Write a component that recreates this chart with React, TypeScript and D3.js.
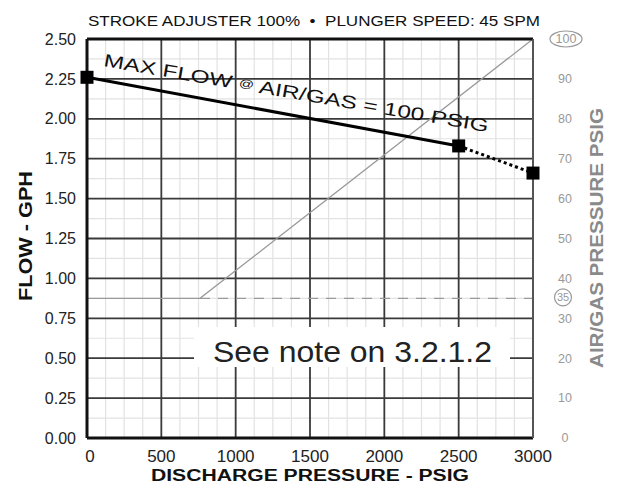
import * as d3 from "d3";

// discharge pressure (psig) vs max flow (gph)
const flowPsi = [0, 2500, 3000];
const flowGph = [2.26, 1.83, 1.66];

// air/gas pressure needed (psig) on right axis
const airPsi = [0, 760, 3000];
const airPressure = [35, 35, 100];

const xTicks = [0, 500, 1000, 1500, 2000, 2500, 3000];
const yTicks = [0, 0.25, 0.5, 0.75, 1.0, 1.25, 1.5, 1.75, 2.0, 2.25, 2.5];
const rightTicks = [0, 10, 20, 30, 40, 50, 60, 70, 80, 90, 100];
const circledTicks = [35, 100];

const title = "STROKE ADJUSTER 100%\u00a0\u00a0\u2022\u00a0\u00a0PLUNGER SPEED: 45 SPM";
const noteText = "See note on 3.2.1.2";

const W = 617;
const H = 485;
const left = 87;
const right = 533;
const top = 39;
const bottom = 438;

const font = "'Liberation Sans', Arial, Helvetica, sans-serif";

export default function App() {
  const x = d3.scaleLinear().domain([0, 3000]).range([left, right]);
  const y = d3.scaleLinear().domain([0, 2.5]).range([bottom, top]);
  const yR = d3.scaleLinear().domain([0, 100]).range([bottom, top]);

  const minorX = d3.range(0, 3001, 125).filter((v) => v % 500 !== 0);
  const minorY = d3.range(0.125, 2.5, 0.25);

  const flowPts = flowPsi.map((p, i) => [x(p), y(flowGph[i])] as [number, number]);
  const line = d3.line();
  const solidFlow = line(flowPts.slice(0, 2));
  const dottedFlow = line(flowPts.slice(1, 3));

  const airPts = airPsi.map((p, i) => [x(p), yR(airPressure[i])] as [number, number]);

  // label sits a bit flatter than the line itself
  const ang = (Math.atan2(flowPts[1][1] - flowPts[0][1], flowPts[1][0] - flowPts[0][0]) * 180) / Math.PI - 0.7;

  return (
    <svg
      width={W}
      height={H}
      style={{ position: "absolute", left: 0, top: 0, background: "#fff" }}
      fontFamily={font}
    >
      <rect width={W} height={H} fill="#fff" />

      {/* minor grid */}
      {minorX.map((v) => (
        <line key={"mx" + v} x1={x(v)} x2={x(v)} y1={top} y2={bottom} stroke="#e2e2e2" strokeWidth={1.2} />
      ))}
      {minorY.map((v) => (
        <line key={"my" + v} x1={left} x2={right} y1={y(v)} y2={y(v)} stroke="#e2e2e2" strokeWidth={1.2} />
      ))}

      {/* major grid */}
      {xTicks.map((v) => (
        <line key={"gx" + v} x1={x(v)} x2={x(v)} y1={top} y2={bottom} stroke="#3a3a3a" strokeWidth={1.8} />
      ))}
      {yTicks.map((v) => (
        <line key={"gy" + v} x1={left} x2={right} y1={y(v)} y2={y(v)} stroke="#3a3a3a" strokeWidth={1.8} />
      ))}

      {/* note box */}
      <rect x={194} y={327} width={316} height={40} fill="#fff" />
      <text x={213} y={362} fontSize={29} fill="#222" textLength={279} lengthAdjust="spacingAndGlyphs">
        {noteText}
      </text>

      {/* air/gas pressure line */}
      <path d={line(airPts) || ""} fill="none" stroke="#9a9a9a" strokeWidth={1.3} />
      <line
        x1={x(airPsi[1])}
        x2={x(3000)}
        y1={yR(airPressure[1])}
        y2={yR(airPressure[1])}
        stroke="#9a9a9a"
        strokeWidth={1.3}
        strokeDasharray="10,8"
      />

      {/* border */}
      <line x1={left} x2={right} y1={top} y2={top} stroke="#111" strokeWidth={3} />
      <line x1={left} x2={right} y1={bottom} y2={bottom} stroke="#111" strokeWidth={3} />
      <line x1={left} x2={left} y1={top} y2={bottom} stroke="#111" strokeWidth={3} />
      <line x1={right} x2={right} y1={top} y2={bottom} stroke="#555" strokeWidth={2} />

      {/* flow line */}
      <path d={solidFlow || ""} fill="none" stroke="#000" strokeWidth={3} />
      <path d={dottedFlow || ""} fill="none" stroke="#000" strokeWidth={3} strokeDasharray="3,3" />
      {flowPts.map(([px, py], i) => (
        <rect key={"m" + i} x={px - 6.5} y={py - 6.5} width={13} height={13} fill="#000" />
      ))}

      <text
        transform={`translate(103,66) rotate(${ang})`}
        fontSize={18}
        fill="#111"
        textLength={390}
        lengthAdjust="spacingAndGlyphs"
      >
        MAX FLOW <tspan fontSize={11} dy={-3}>@</tspan>
        <tspan dy={3}> AIR/GAS = 100 PSIG</tspan>
      </text>

      {/* title */}
      <text x={88} y={26} fontSize={14} fill="#111" textLength={452} lengthAdjust="spacingAndGlyphs">
        {title}
      </text>

      {/* left ticks */}
      {yTicks.map((v) => (
        <text key={"ly" + v} x={76} y={y(v)} dy="0.35em" fontSize={16} textAnchor="end" fill="#222">
          {v.toFixed(2)}
        </text>
      ))}

      {/* bottom ticks */}
      {xTicks.map((v) => (
        <text key={"lx" + v} x={x(v) + (v === 0 ? 3 : 0)} y={462} fontSize={17} textAnchor="middle" fill="#222">
          {v}
        </text>
      ))}

      {/* right ticks */}
      {rightTicks.map((v) => (
        <text key={"ry" + v} x={565} y={yR(v)} dy="0.35em" fontSize={12.5} textAnchor="middle" fill="#999">
          {v}
        </text>
      ))}
      {circledTicks.map((v) =>
        v === 100 ? (
          <ellipse key={"c" + v} cx={566} cy={yR(v)} rx={16} ry={8} fill="#fff" stroke="#999" strokeWidth={1.2} />
        ) : (
          <g key={"c" + v}>
            <circle cx={563} cy={yR(v) - 1} r={8.5} fill="#fff" stroke="#999" strokeWidth={1.2} />
            <text x={563} y={yR(v) - 1} dy="0.35em" fontSize={11} textAnchor="middle" fill="#999">
              {v}
            </text>
          </g>
        )
      )}
      <text x={566} y={yR(100)} dy="0.35em" fontSize={12.5} textAnchor="middle" fill="#999">
        100
      </text>

      {/* axis titles */}
      <text
        x={310}
        y={481}
        fontSize={16}
        fontWeight="bold"
        textAnchor="middle"
        fill="#111"
        textLength={318}
        lengthAdjust="spacingAndGlyphs"
      >
        DISCHARGE PRESSURE - PSIG
      </text>
      <text
        transform="translate(32,236) rotate(-90)"
        fontSize={18}
        fontWeight="bold"
        textAnchor="middle"
        fill="#111"
        textLength={130}
        lengthAdjust="spacingAndGlyphs"
      >
        FLOW - GPH
      </text>
      <text
        transform="translate(603,238) rotate(-90)"
        fontSize={18}
        fontWeight="bold"
        textAnchor="middle"
        fill="#8a8a8a"
        textLength={260}
        lengthAdjust="spacingAndGlyphs"
      >
        AIR/GAS PRESSURE PSIG
      </text>
    </svg>
  );
}
